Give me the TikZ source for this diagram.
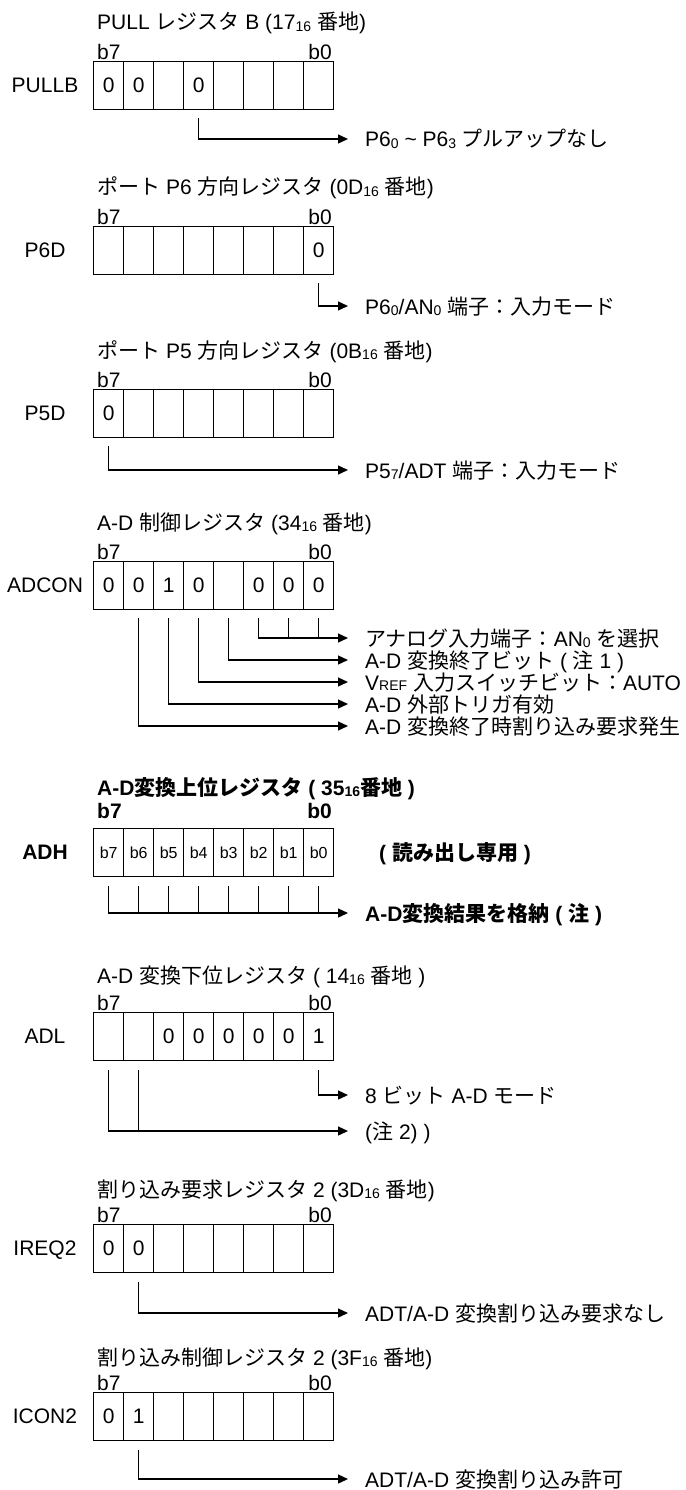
\documentclass[tikz,border=0pt]{standalone}
\usepackage{fontspec}
\setmainfont{Liberation Sans}
\newfontfamily\jpfont{Noto Sans CJK JP}
\usetikzlibrary{arrows.meta}
\newcommand\J[1]{{\jpfont #1}}
\newcommand\sbs[1]{\raisebox{-1.5pt}{\fontsize{14}{14}\selectfont #1}}
\newcommand\smc[1]{{\fontsize{14}{14}\selectfont #1}}
\newcommand\fsz{\fontsize{21}{25}\selectfont}
\newcommand\regcells[4][]{%
  \foreach \v [count=\i from 0] in {#4} {
    \node[cell,#1] (#2\i) at ({93+30*\i},#3) {\v};
  }}
\tikzset{
  ttl/.style={font=\fsz, inner sep=0pt, anchor=west, text height=16pt, text depth=0pt},
  bl/.style={font=\fsz, inner sep=0pt, anchor=base west},
  br/.style={font=\fsz, inner sep=0pt, anchor=base east},
  rl/.style={font=\fsz, inner sep=0pt, anchor=center, text height=15pt, text depth=0pt},
  cell/.style={draw, line width=1.3pt, minimum width=30pt, minimum height=48pt, inner sep=0pt, font=\fsz, anchor=north west},
  conn/.style={line width=1.3pt},
  arr/.style={line width=1.3pt, -{Triangle[length=10pt,width=9pt]}},
  desc/.style={font=\fsz, inner sep=0pt, anchor=west, text height=16pt, text depth=0pt},
}
\begin{document}
\begin{tikzpicture}[x=1pt,y=-1pt]
\fill[white] (0,0) rectangle (685,1490);
\useasboundingbox (0,0) rectangle (685,1490);

% ---------- PULLB
\node[ttl] (t1) at (97,22) {PULL \J{レジスタ} B (17\sbs{16} \J{番地})};
\regcells{pb}{61}{0,0,{},0,{},{},{},{}}
\node[bl] (pbh) at (97,59.5) {b7};
\node[br] (pbl0) at (332,59.5) {b0};
\node[rl] (pbn) at (45,85) {PULLB};
\node[desc] (pbd) at (365,139) {P6\sbs{0} \textasciitilde{} P6\sbs{3} \J{プルアップなし}};
\draw[arr] ([yshift=-8pt]pb3.south) |- ([xshift=-17pt]pbd.west);

% ---------- P6D
\node[ttl] (t2) at (97,187) {\J{ポート} P6 \J{方向レジスタ}\hspace{6pt}(0D\sbs{16} \J{番地})};
\regcells{pd}{226}{{},{},{},{},{},{},{},0}
\node[bl] (pdh) at (97,224.5) {b7};
\node[br] (pdl0) at (332,224.5) {b0};
\node[rl] (pdn) at (45,250) {P6D};
\node[desc] (pdd) at (365,306) {P6\sbs{0}/AN\sbs{0} \J{端子：入力モード}};
\draw[arr] ([yshift=-8pt]pd7.south) |- ([xshift=-17pt]pdd.west);

% ---------- P5D
\node[ttl] (t3) at (97,350) {\J{ポート} P5 \J{方向レジスタ}\hspace{6pt}(0B\sbs{16} \J{番地})};
\regcells{pf}{389}{0,{},{},{},{},{},{},{}}
\node[bl] (pfh) at (97,387.5) {b7};
\node[br] (pfl0) at (332,387.5) {b0};
\node[rl] (pfn) at (45,413) {P5D};
\node[desc] (pfd) at (365,470) {P5\sbs{7}/ADT \J{端子：入力モード}};
\draw[arr] ([yshift=-8pt]pf0.south) |- ([xshift=-17pt]pfd.west);

% ---------- ADCON
\node[ttl] (t4) at (97,522) {A-D \J{制御レジスタ}\hspace{6pt}(34\sbs{16} \J{番地})};
\regcells{ac}{561}{0,0,1,0,{},0,0,0}
\node[bl] (ach) at (97,559.5) {b7};
\node[br] (acl0) at (332,559.5) {b0};
\node[rl] (acn) at (45,585) {ADCON};
\node[desc] (ad1) at (365,638) {\J{アナログ入力端子：}AN\sbs{0} \J{を選択}};
\node[desc] (ad2) at (365,660) {A-D \J{変換終了ビット} ( \J{注} 1 )};
\node[desc] (ad3) at (365,682) {V\smc{REF} \J{入力スイッチビット：}AUTO};
\node[desc] (ad4) at (365,704) {A-D \J{外部トリガ有効}};
\node[desc] (ad5) at (365,726) {A-D \J{変換終了時割り込み要求発生}};
\draw[arr] ([yshift=-8pt]ac5.south) |- ([xshift=-17pt]ad1.west);
\draw[conn] ([yshift=-8pt]ac6.south) -- (ac6.south |- ad1.west);
\draw[conn] ([yshift=-8pt]ac7.south) -- (ac7.south |- ad1.west);
\draw[arr] ([yshift=-8pt]ac4.south) |- ([xshift=-17pt]ad2.west);
\draw[arr] ([yshift=-8pt]ac3.south) |- ([xshift=-17pt]ad3.west);
\draw[arr] ([yshift=-8pt]ac2.south) |- ([xshift=-17pt]ad4.west);
\draw[arr] ([yshift=-8pt]ac1.south) |- ([xshift=-17pt]ad5.west);

% ---------- ADH
\node[ttl,font=\fsz\bfseries] (t5) at (97,787) {A-D\J{変換上位レジスタ} ( 35\sbs{16}\J{番地} )};
\regcells[font=\fontsize{16}{16}\selectfont]{ah}{828}{b7,b6,b5,b4,b3,b2,b1,b0}
\node[bl,font=\fsz\bfseries] (ahh) at (97,818) {b7};
\node[br,font=\fsz\bfseries] (ahl0) at (332,818) {b0};
\node[rl,font=\fsz\bfseries] (ahn) at (45,852) {ADH};
\node[desc,font=\fsz\bfseries] (ahr) at (379,852) {( \J{読み出し専用} )};
\node[desc,font=\fsz\bfseries] (ahd) at (365,913) {A-D\J{変換結果を格納} ( \J{注} )};
\draw[arr] ([yshift=-9pt]ah0.south) |- ([xshift=-17pt]ahd.west);
\foreach \k in {1,...,7} \draw[conn] ([yshift=-9pt]ah\k.south) -- (ah\k.south |- ahd.west);

% ---------- ADL
\node[ttl] (t6) at (97,975) {A-D \J{変換下位レジスタ} ( 14\sbs{16} \J{番地} )};
\regcells{al}{1012}{{},{},0,0,0,0,0,1}
\node[bl] (alh) at (97,1010.5) {b7};
\node[br] (all0) at (332,1010.5) {b0};
\node[rl] (aln) at (45,1036) {ADL};
\node[desc] (ald1) at (365,1095) {8 \J{ビット} A-D \J{モード}};
\node[desc] (ald2) at (365,1131) {(\J{注} 2) )};
\draw[arr] ([yshift=-9pt]al7.south) |- ([xshift=-17pt]ald1.west);
\draw[arr] ([yshift=-9pt]al0.south) |- ([xshift=-17pt]ald2.west);
\draw[conn] ([yshift=-9pt]al1.south) -- (al1.south |- ald2.west);

% ---------- IREQ2
\node[ttl] (t7) at (97,1189) {\J{割り込み要求レジスタ} 2 (3D\sbs{16} \J{番地})};
\regcells{iq}{1224}{0,0,{},{},{},{},{},{}}
\node[bl] (iqh) at (97,1222.5) {b7};
\node[br] (iql0) at (332,1222.5) {b0};
\node[rl] (iqn) at (45,1248) {IREQ2};
\node[desc] (iqd) at (365,1313) {ADT/A-D \J{変換割り込み要求なし}};
\draw[arr] ([yshift=-9pt]iq1.south) |- ([xshift=-17pt]iqd.west);

% ---------- ICON2
\node[ttl] (t8) at (97,1357) {\J{割り込み制御レジスタ} 2 (3F\sbs{16} \J{番地})};
\regcells{ic}{1392}{0,1,{},{},{},{},{},{}}
\node[bl] (ich) at (97,1390.5) {b7};
\node[br] (icl0) at (332,1390.5) {b0};
\node[rl] (icn) at (45,1416) {ICON2};
\node[desc] (icd) at (365,1479) {ADT/A-D \J{変換割り込み許可}};
\draw[arr] ([yshift=-9pt]ic1.south) |- ([xshift=-17pt]icd.west);
\end{tikzpicture}
\end{document}
